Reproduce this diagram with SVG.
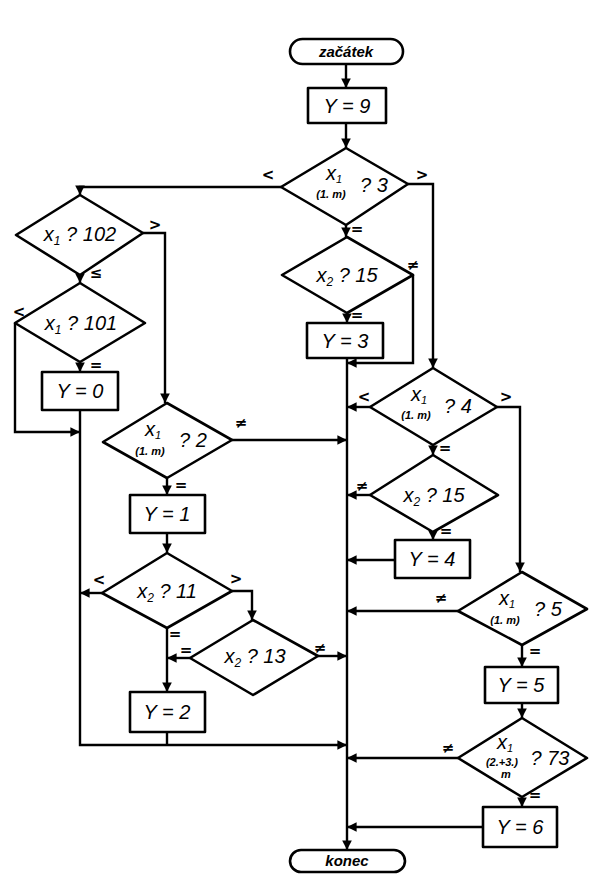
<svg xmlns="http://www.w3.org/2000/svg" width="599" height="895" viewBox="0 0 599 895">
<style>
.s{fill:#fff;stroke:#000;stroke-width:2.6;stroke-linejoin:round}
.c{fill:none;stroke:#000;stroke-width:2.4;stroke-linejoin:miter}
.t{font-family:"Liberation Sans","DejaVu Sans",sans-serif;font-style:italic;font-size:20px;fill:#000;text-anchor:middle}
.sm{font-size:11px;font-weight:bold}
.tm{font-family:"Liberation Sans","DejaVu Sans",sans-serif;font-style:italic;font-weight:bold;font-size:15px;fill:#000;text-anchor:middle}
.l{font-family:"DejaVu Sans",sans-serif;font-size:15px;font-weight:bold;fill:#000;text-anchor:middle}
</style>
<defs>
<marker id="a" viewBox="0 0 10 10" refX="10" refY="5" markerWidth="4" markerHeight="4" orient="auto" markerUnits="strokeWidth">
<path d="M0,0 L10,5 L0,10 z" fill="#000"/>
</marker>
</defs>
<rect width="599" height="895" fill="#fff"/>
<g id="connectors">
<path class="c" d="M346,64 V88" marker-end="url(#a)"/>
<path class="c" d="M346,123 V148" marker-end="url(#a)"/>
<path class="c" d="M281,187 H80 V195" marker-end="url(#a)"/>
<path class="c" d="M346,225 V237" marker-end="url(#a)"/>
<path class="c" d="M408,184 H433 V368" marker-end="url(#a)"/>
<path class="c" d="M347,313 V323" marker-end="url(#a)"/>
<path class="c" d="M413,275 V363 H347" marker-end="url(#a)"/>
<path class="c" d="M347,358 V850" marker-end="url(#a)"/>
<path class="c" d="M143,233 H165 V403" marker-end="url(#a)"/>
<path class="c" d="M80,275 V283" marker-end="url(#a)"/>
<path class="c" d="M15,323 V432 H80" marker-end="url(#a)"/>
<path class="c" d="M80,362 V372" marker-end="url(#a)"/>
<path class="c" d="M80,410 V745 H347" marker-end="url(#a)"/>
<path class="c" d="M232,440 H347" marker-end="url(#a)"/>
<path class="c" d="M167,478 V495" marker-end="url(#a)"/>
<path class="c" d="M167,533 V553" marker-end="url(#a)"/>
<path class="c" d="M102,593 H80" marker-end="url(#a)"/>
<path class="c" d="M232,591 H252 V620" marker-end="url(#a)"/>
<path class="c" d="M167,628 V692" marker-end="url(#a)"/>
<path class="c" d="M190,658 H167" marker-end="url(#a)"/>
<path class="c" d="M318,656 H347" marker-end="url(#a)"/>
<path class="c" d="M167,732 V745"/>
<path class="c" d="M370,407 H347" marker-end="url(#a)"/>
<path class="c" d="M497,407 H520 V572" marker-end="url(#a)"/>
<path class="c" d="M433,445 V455" marker-end="url(#a)"/>
<path class="c" d="M370,495 H347" marker-end="url(#a)"/>
<path class="c" d="M433,532 V540" marker-end="url(#a)"/>
<path class="c" d="M395,560 H347" marker-end="url(#a)"/>
<path class="c" d="M458,611 H347" marker-end="url(#a)"/>
<path class="c" d="M522,645 V667" marker-end="url(#a)"/>
<path class="c" d="M522,703 V718" marker-end="url(#a)"/>
<path class="c" d="M458,758 H347" marker-end="url(#a)"/>
<path class="c" d="M522,797 V807" marker-end="url(#a)"/>
<path class="c" d="M483,827 H347" marker-end="url(#a)"/>
</g>
<g id="labels">
<text class="l" x="268" y="180">&lt;</text>
<text class="l" x="422" y="180">&gt;</text>
<text class="l" x="357" y="234">=</text>
<text class="l" x="357" y="320">=</text>
<text class="l" x="413" y="270">≠</text>
<text class="l" x="155" y="230">&gt;</text>
<text class="l" x="96" y="278">≤</text>
<text class="l" x="19" y="317">&lt;</text>
<text class="l" x="96" y="370">=</text>
<text class="l" x="241" y="428">≠</text>
<text class="l" x="181" y="490">=</text>
<text class="l" x="99" y="585">&lt;</text>
<text class="l" x="236" y="584">&gt;</text>
<text class="l" x="175" y="639">=</text>
<text class="l" x="186" y="655">=</text>
<text class="l" x="320" y="653">≠</text>
<text class="l" x="364" y="402">&lt;</text>
<text class="l" x="506" y="402">&gt;</text>
<text class="l" x="445" y="453">=</text>
<text class="l" x="362" y="491">≠</text>
<text class="l" x="446" y="536">=</text>
<text class="l" x="441" y="603">≠</text>
<text class="l" x="535" y="656">=</text>
<text class="l" x="448" y="753">≠</text>
<text class="l" x="535" y="800">=</text>
</g>
<g id="start">
<rect class="s" x="290" y="39" width="113" height="25" rx="12.5"/>
<text class="tm" x="346" y="57">začátek</text>
</g>
<g id="y9">
<rect class="s" x="308" y="88" width="78" height="35"/>
<text class="t" x="347" y="113">Y = 9</text>
</g>
<g id="d1">
<polygon class="s" points="346,148 408,184 346,225 281,187"/>
<text class="t" x="334" y="180" font-size="16">x<tspan font-size="11" dy="3">1</tspan></text>
<text class="t sm" x="331" y="198">(1. m)</text>
<text class="t" x="374" y="192">? 3</text>
</g>
<g id="d2">
<polygon class="s" points="347,237 413,275 347,313 282,275"/>
<text class="t" x="347" y="282">x<tspan font-size="12" dy="4">2</tspan><tspan dy="-4"> ? 15</tspan></text>
</g>
<g id="y3">
<rect class="s" x="307" y="323" width="76" height="35"/>
<text class="t" x="345" y="348">Y = 3</text>
</g>
<g id="d102">
<polygon class="s" points="80,195 143,233 80,275 16,235"/>
<text class="t" x="80" y="241">x<tspan font-size="12" dy="4">1</tspan><tspan dy="-4"> ? 102</tspan></text>
</g>
<g id="d101">
<polygon class="s" points="80,283 145,323 80,362 15,323"/>
<text class="t" x="81" y="330">x<tspan font-size="12" dy="4">1</tspan><tspan dy="-4"> ? 101</tspan></text>
</g>
<g id="y0">
<rect class="s" x="42" y="372" width="76" height="38"/>
<text class="t" x="80" y="398">Y = 0</text>
</g>
<g id="d2m">
<polygon class="s" points="167,403 232,440 167,478 103,442"/>
<text class="t" x="153" y="436" font-size="16">x<tspan font-size="11" dy="3">1</tspan></text>
<text class="t sm" x="150" y="455">(1. m)</text>
<text class="t" x="193" y="447">? 2</text>
</g>
<g id="y1">
<rect class="s" x="130" y="495" width="75" height="38"/>
<text class="t" x="167" y="521">Y = 1</text>
</g>
<g id="d11">
<polygon class="s" points="167,553 232,591 167,628 102,593"/>
<text class="t" x="167" y="598">x<tspan font-size="12" dy="4">2</tspan><tspan dy="-4"> ? 11</tspan></text>
</g>
<g id="d13">
<polygon class="s" points="253,620 318,656 253,695 190,658"/>
<text class="t" x="255" y="663">x<tspan font-size="12" dy="4">2</tspan><tspan dy="-4"> ? 13</tspan></text>
</g>
<g id="y2">
<rect class="s" x="130" y="692" width="75" height="40"/>
<text class="t" x="167" y="719">Y = 2</text>
</g>
<g id="d4">
<polygon class="s" points="433,368 497,407 433,445 370,407"/>
<text class="t" x="419" y="401" font-size="16">x<tspan font-size="11" dy="3">1</tspan></text>
<text class="t sm" x="416" y="419">(1. m)</text>
<text class="t" x="458" y="413">? 4</text>
</g>
<g id="d15b">
<polygon class="s" points="433,455 498,495 433,532 370,495"/>
<text class="t" x="434" y="502">x<tspan font-size="12" dy="4">2</tspan><tspan dy="-4"> ? 15</tspan></text>
</g>
<g id="y4">
<rect class="s" x="395" y="540" width="75" height="38"/>
<text class="t" x="432" y="566">Y = 4</text>
</g>
<g id="d5">
<polygon class="s" points="522,572 587,609 522,645 458,611"/>
<text class="t" x="507" y="605" font-size="16">x<tspan font-size="11" dy="3">1</tspan></text>
<text class="t sm" x="505" y="624">(1. m)</text>
<text class="t" x="548" y="616">? 5</text>
</g>
<g id="y5">
<rect class="s" x="485" y="667" width="73" height="36"/>
<text class="t" x="521" y="692">Y = 5</text>
</g>
<g id="d73">
<polygon class="s" points="522,718 587,758 522,797 458,758"/>
<text class="t" x="505" y="749" font-size="16">x<tspan font-size="11" dy="3">1</tspan></text>
<text class="t sm" x="502" y="766">(2.+3.)</text>
<text class="t sm" x="506" y="778">m</text>
<text class="t" x="550" y="765">? 73</text>
</g>
<g id="y6">
<rect class="s" x="483" y="807" width="74" height="40"/>
<text class="t" x="520" y="834">Y = 6</text>
</g>
<g id="end">
<rect class="s" x="290" y="850" width="115" height="22" rx="11"/>
<text class="tm" x="347" y="866">konec</text>
</g>
</svg>
